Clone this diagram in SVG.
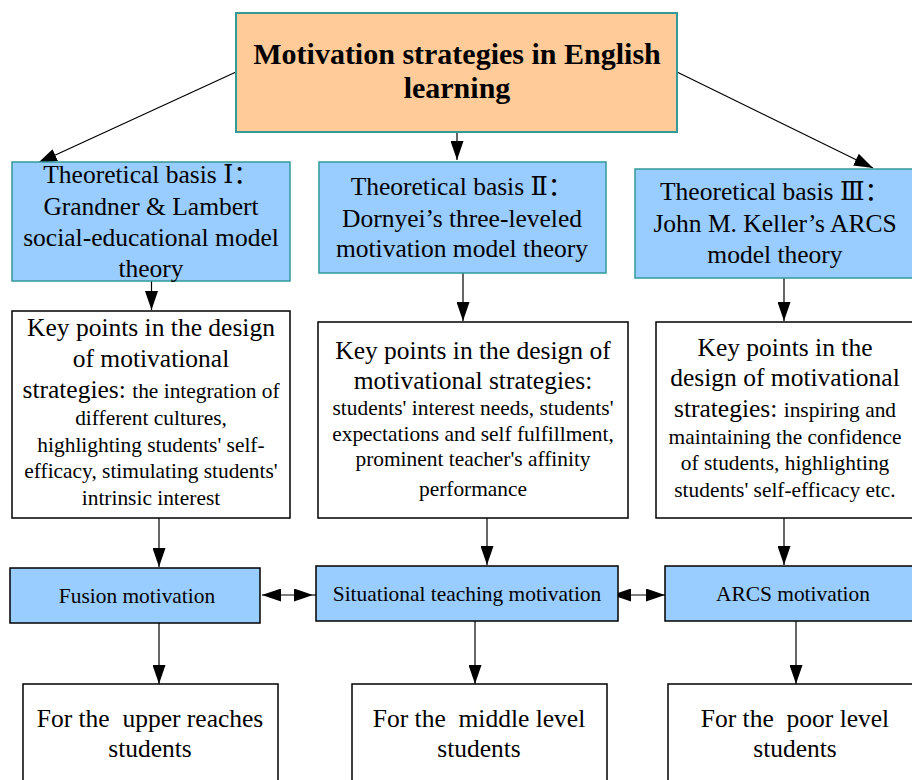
<svg xmlns="http://www.w3.org/2000/svg" width="912" height="780" viewBox="0 0 912 780">
<style>
.t{font-family:"Liberation Serif","DejaVu Serif","Noto Sans CJK SC",serif;fill:#000;text-anchor:middle}
.big{font-size:25.5px}
.sm{font-size:21.4px}
.title{font-size:30px;font-weight:bold}
.peach{fill:#FFCC99;stroke:#339999;stroke-width:2}
.theory{fill:#99CCFF;stroke:#339999;stroke-width:1.5}
.white{fill:#fff;stroke:#000;stroke-width:1.5}
.mot{fill:#99CCFF;stroke:#000;stroke-width:1.5}
.c{stroke:#000;stroke-width:1.2;fill:none}
</style>
<defs>
<marker id="ah" viewBox="0 0 19 13" markerWidth="19" markerHeight="13" refX="19" refY="6.5" markerUnits="userSpaceOnUse" orient="auto-start-reverse">
<path d="M0,0 L19,6.5 L0,13 z" fill="#000"/>
</marker>
</defs>
<rect width="912" height="780" fill="#fff"/>

<g id="connectors">
<line class="c" x1="236" y1="72" x2="38" y2="163" marker-end="url(#ah)"/>
<line class="c" x1="457" y1="132" x2="457" y2="160" marker-end="url(#ah)"/>
<line class="c" x1="677" y1="72" x2="873" y2="168" marker-end="url(#ah)"/>
<line class="c" x1="151.5" y1="281" x2="151.5" y2="310" marker-end="url(#ah)"/>
<line class="c" x1="463" y1="273" x2="463" y2="321" marker-end="url(#ah)"/>
<line class="c" x1="784" y1="278" x2="784" y2="321" marker-end="url(#ah)"/>
<line class="c" x1="159" y1="518" x2="159" y2="567" marker-end="url(#ah)"/>
<line class="c" x1="487" y1="518" x2="487" y2="565" marker-end="url(#ah)"/>
<line class="c" x1="784" y1="518" x2="784" y2="565" marker-end="url(#ah)"/>
<line class="c" x1="262" y1="595" x2="313" y2="595" marker-start="url(#ah)" marker-end="url(#ah)"/>
<line class="c" x1="313" y1="595" x2="317" y2="595"/>
<line class="c" x1="612" y1="595" x2="665" y2="595" marker-start="url(#ah)" marker-end="url(#ah)"/>
<line class="c" x1="159" y1="623" x2="159" y2="684" marker-end="url(#ah)"/>
<line class="c" x1="475" y1="621" x2="475" y2="684" marker-end="url(#ah)"/>
<line class="c" x1="796" y1="621" x2="796" y2="684" marker-end="url(#ah)"/>
</g>

<g id="title">
<rect class="peach" x="236" y="13" width="441" height="119"/>
<text class="t title" x="457" y="64">Motivation strategies in English</text>
<text class="t title" x="457" y="98">learning</text>
</g>

<g id="theory1">
<rect class="theory" x="12" y="162" width="278" height="119"/>
<text class="t big" x="151" y="183">Theoretical basis Ⅰ：</text>
<text class="t big" x="151" y="215">Grandner &amp; Lambert</text>
<text class="t big" x="151" y="246">social-educational model</text>
<text class="t big" x="151" y="277">theory</text>
</g>

<g id="theory2">
<rect class="theory" x="319" y="162" width="287" height="111"/>
<text class="t big" x="462" y="195">Theoretical basis Ⅱ：</text>
<text class="t big" x="462" y="227">Dornyei’s three-leveled</text>
<text class="t big" x="462" y="257">motivation model theory</text>
</g>

<g id="theory3">
<rect class="theory" x="635" y="169" width="282" height="109"/>
<text class="t big" x="775" y="200">Theoretical basis Ⅲ：</text>
<text class="t big" x="775" y="232">John M. Keller’s ARCS</text>
<text class="t big" x="775" y="263">model theory</text>
</g>

<g id="key1">
<rect class="white" x="12" y="311" width="278" height="207"/>
<text class="t big" x="151" y="336">Key points in the design</text>
<text class="t big" x="151" y="367">of motivational</text>
<text class="t" x="151" y="398"><tspan class="big">strategies: </tspan><tspan class="sm">the integration of</tspan></text>
<text class="t sm" x="151" y="425">different cultures,</text>
<text class="t sm" x="151" y="452">highlighting students' self-</text>
<text class="t sm" x="151" y="478">efficacy, stimulating students'</text>
<text class="t sm" x="151" y="505">intrinsic interest</text>
</g>

<g id="key2">
<rect class="white" x="318" y="322" width="310" height="196"/>
<text class="t big" x="473" y="359">Key points in the design of</text>
<text class="t big" x="473" y="389">motivational strategies:</text>
<text class="t sm" x="473" y="415">students' interest needs, students'</text>
<text class="t sm" x="473" y="441">expectations and self fulfillment,</text>
<text class="t sm" x="473" y="466">prominent teacher's affinity</text>
<text class="t sm" x="473" y="496">performance</text>
</g>

<g id="key3">
<rect class="white" x="656" y="322" width="260" height="196"/>
<text class="t big" x="785" y="356">Key points in the</text>
<text class="t big" x="785" y="386">design of motivational</text>
<text class="t" x="785" y="417"><tspan class="big">strategies: </tspan><tspan class="sm">inspiring and</tspan></text>
<text class="t sm" x="785" y="444">maintaining the confidence</text>
<text class="t sm" x="785" y="470">of students, highlighting</text>
<text class="t sm" x="785" y="497">students' self-efficacy etc.</text>
</g>

<g id="fusion">
<rect class="mot" x="10" y="568" width="250" height="55"/>
<text class="t sm" x="137" y="603">Fusion motivation</text>
</g>

<g id="situational">
<rect class="mot" x="316" y="566" width="302" height="55"/>
<text class="t sm" x="467" y="601">Situational teaching motivation</text>
</g>

<g id="arcs">
<rect class="mot" x="665" y="566" width="256" height="55"/>
<text class="t sm" x="793" y="601">ARCS motivation</text>
</g>

<g id="upper">
<rect class="white" x="23" y="684" width="255" height="110"/>
<text class="t big" x="150" y="727" xml:space="preserve">For the  upper reaches</text>
<text class="t big" x="150" y="757">students</text>
</g>

<g id="middle">
<rect class="white" x="352" y="684" width="255" height="110"/>
<text class="t big" x="479" y="727" xml:space="preserve">For the  middle level</text>
<text class="t big" x="479" y="757">students</text>
</g>

<g id="poor">
<rect class="white" x="668" y="684" width="255" height="110"/>
<text class="t big" x="795" y="727" xml:space="preserve">For the  poor level</text>
<text class="t big" x="795" y="757">students</text>
</g>
</svg>
